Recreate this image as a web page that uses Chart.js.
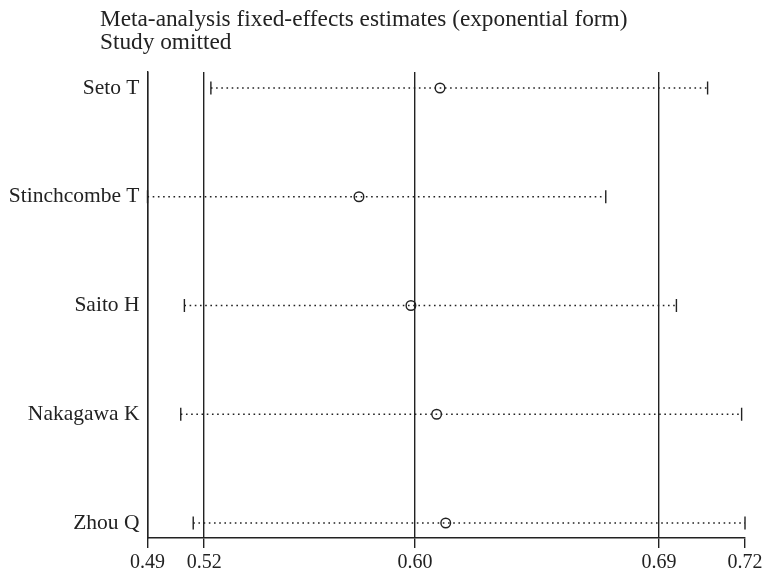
<!DOCTYPE html>
<html>
<head>
<meta charset="utf-8">
<script src="https://cdn.jsdelivr.net/npm/chart.js@4.4.1/dist/chart.umd.min.js"></script>
<style>
    html, body { margin: 0; padding: 0; background: #fff; }
    #wrap { width: 763px; height: 576px; position: relative; }
</style>
</head>
<body>
<div id="wrap"><canvas id="myChart"></canvas></div>
<script>
// one row per omitted study
const studies = ['Seto T', 'Stinchcombe T', 'Saito H', 'Nakagawa K', 'Zhou Q'];
const estimates = [0.6026, 0.5714, 0.5914, 0.6013, 0.6048];
const lowerCI = [0.5144, 0.4900, 0.5042, 0.5028, 0.5076];
const upperCI = [0.7056, 0.6664, 0.6936, 0.7187, 0.7200];

// x ticks: where the lines sit and what they are labelled
const tickValues = [0.49, 0.5118, 0.5930, 0.6869, 0.72];
const tickLabels = ['0.49', '0.52', '0.60', '0.69', '0.72'];

const titleLines = ['Meta-analysis fixed-effects estimates (exponential form)', 'Study omitted'];

const ink = '#222';
const serif = '"Liberation Serif", "DejaVu Serif", serif';

let datasets = studies.map((name, i) => ({
    type: 'line',
    label: name,
    data: [{x: lowerCI[i], y: i + 1}, {x: upperCI[i], y: i + 1}],
    borderColor: ink,
    borderWidth: 1.4,
    borderDash: [1.6, 3.6],
    pointStyle: 'line',
    rotation: 90,
    pointRadius: 6.5,
    pointBorderWidth: 1.4,
    pointBorderColor: ink,
    clip: false
}));

datasets.push({
    type: 'scatter',
    label: 'estimate',
    data: estimates.map((v, i) => ({x: v, y: i + 1})),
    pointStyle: 'circle',
    pointRadius: 4.8,
    pointBorderWidth: 1.4,
    borderColor: ink,
    backgroundColor: 'rgba(0,0,0,0)',
    clip: false
});

const titlePlugin = {
    id: 'leftTitle',
    afterDraw(chart) {
        let ctx = chart.ctx;
        ctx.save();
        ctx.fillStyle = ink;
        ctx.font = '23.3px ' + serif;
        ctx.textBaseline = 'middle';
        ctx.textAlign = 'left';
        ctx.fillText(titleLines[0], 100, 20);
        ctx.fillText(titleLines[1], 100, 43);
        ctx.restore();
    }
};

let config = {
    data: { datasets: datasets },
    options: {
        maintainAspectRatio: false,
        responsive: true,
        animation: false,
        layout: { padding: { top: 72, right: 18, left: 0, bottom: 0 } },
        plugins: {
            legend: { display: false },
            tooltip: { enabled: false }
        },
        scales: {
            x: {
                type: 'linear',
                min: 0.49,
                max: 0.72,
                afterBuildTicks: (scale) => {
                    scale.ticks = tickValues.map(v => ({value: v}));
                },
                afterFit: (scale) => {
                    scale.height = 38;
                    scale.paddingLeft = 0;
                    scale.paddingRight = 0;
                },
                ticks: {
                    autoSkip: false,
                    maxRotation: 0,
                    padding: 3,
                    color: ink,
                    font: { family: serif, size: 20 },
                    callback: (value, index) => tickLabels[index]
                },
                grid: {
                    color: (ctx) => (ctx.tick && ctx.tick.value === 0.72) ? 'rgba(0,0,0,0)' : ink,
                    tickColor: ink,
                    lineWidth: 1.4,
                    tickLength: 10
                },
                border: { display: true, color: ink, width: 1.4 }
            },
            y: {
                type: 'linear',
                reverse: true,
                min: 0.853,
                max: 5.138,
                afterBuildTicks: (scale) => {
                    scale.ticks = studies.map((s, i) => ({value: i + 1}));
                },
                afterFit: (scale) => {
                    scale.width = 147.5;
                    scale.paddingTop = 0;
                    scale.paddingBottom = 0;
                },
                ticks: {
                    autoSkip: false,
                    padding: 8,
                    color: ink,
                    font: { family: serif, size: 21.5 },
                    callback: (value) => studies[value - 1]
                },
                grid: { display: false, drawTicks: false },
                border: { display: true, color: ink, width: 1.4 }
            }
        }
    },
    plugins: [titlePlugin]
};

let chart = new Chart(document.getElementById('myChart'), config);
</script>
</body>
</html>
